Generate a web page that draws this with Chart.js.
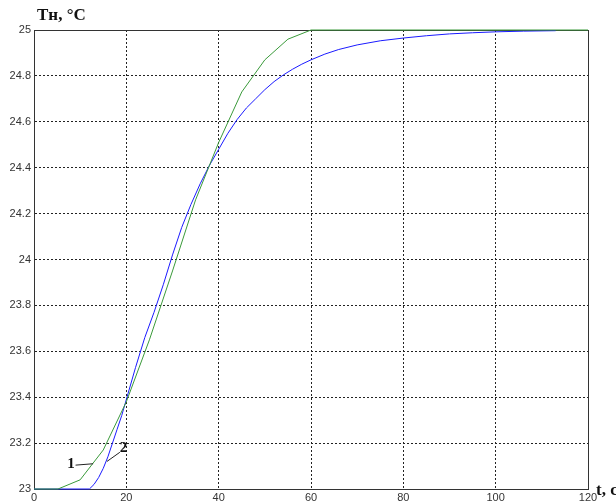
<!DOCTYPE html>
<html>
<head>
<meta charset="utf-8">
<script src="https://cdn.jsdelivr.net/npm/chart.js@4.4.0/dist/chart.umd.min.js"></script>
<style>
  body { margin: 0; background: #fff; }
  #wrap { position: relative; width: 616px; height: 502px; overflow: hidden; }
  .lbl { position: absolute; font-family: 'Liberation Serif', 'Times New Roman', serif; font-weight: bold; color: #111; white-space: nowrap; }
</style>
</head>
<body>
<div id="wrap">
  <canvas id="chart" width="616" height="502"></canvas>
  <div class="lbl" style="left:37px; top:5px; font-size:17px;">Тн, °С</div>
  <div class="lbl" style="left:596px; top:480px; font-size:17px;">t, с</div>
</div>
<script>
// curve 1 (green), piecewise
const time1 = [0, 5.2, 10, 15, 20, 25, 30, 35, 40, 45, 50, 55, 60, 120];
const temp1 = [23, 23, 23.04, 23.17, 23.38, 23.65, 23.95, 24.26, 24.51, 24.73, 24.87, 24.96, 25, 25];

// curve 2 (blue)
const time2 = [0, 12, 13, 14, 15, 16, 17, 18, 19, 20, 22, 24, 26, 28, 30, 32, 34, 36, 38, 40,
  42, 44, 46, 48, 50, 52, 54, 56, 58, 60, 63, 66, 70, 75, 80, 85, 90, 95, 100, 106, 113];
const temp2 = [23, 23, 23.02, 23.05, 23.09, 23.14, 23.2, 23.26, 23.32, 23.39, 23.53, 23.66, 23.77, 23.89, 24.02, 24.14, 24.24, 24.33, 24.41, 24.48,
  24.55, 24.61, 24.66, 24.70, 24.74, 24.775, 24.804, 24.829, 24.851, 24.87, 24.895, 24.915, 24.935, 24.953, 24.965, 24.975, 24.983, 24.988, 24.992, 24.995, 24.997];

const xTicks = [0, 20, 40, 60, 80, 100, 120];
const yMin = 23, yMax = 25, yStep = 0.2;

// curve labels: [text, textX, textY, lineFromX, lineFromY, lineToX, lineToY]
const curveLabels = [
  ['1', 8.0, 23.11, 9.0, 23.104, 12.8, 23.11],
  ['2', 19.4, 23.18, 18.6, 23.16, 15.8, 23.12]
];

const toPoints = (xs, ys) => xs.map((x, i) => ({ x: x, y: ys[i] }));

const frameAndLabels = {
  id: 'frameAndLabels',
  beforeDatasetsDraw(chart) {
    const { ctx, chartArea: a } = chart;
    ctx.save();
    ctx.strokeStyle = '#333';
    ctx.lineWidth = 1;
    ctx.strokeRect(Math.round(a.left) + 0.5, Math.round(a.top) + 0.5,
      Math.round(a.right - a.left), Math.round(a.bottom - a.top));
    ctx.restore();
  },
  afterDatasetsDraw(chart) {
    const { ctx, scales: { x, y } } = chart;
    ctx.save();
    ctx.strokeStyle = '#222';
    ctx.lineWidth = 1;
    ctx.font = 'bold 15px "Liberation Serif", serif';
    ctx.fillStyle = '#111';
    ctx.textAlign = 'center';
    ctx.textBaseline = 'middle';
    curveLabels.forEach(l => {
      ctx.fillText(l[0], x.getPixelForValue(l[1]), y.getPixelForValue(l[2]));
      ctx.beginPath();
      ctx.moveTo(x.getPixelForValue(l[3]), y.getPixelForValue(l[4]));
      ctx.lineTo(x.getPixelForValue(l[5]), y.getPixelForValue(l[6]));
      ctx.stroke();
    });
    ctx.restore();
  }
};

new Chart(document.getElementById('chart').getContext('2d'), {
  type: 'line',
  data: {
    datasets: [
      { label: '1', data: toPoints(time1, temp1), borderColor: '#3a9a3a', borderWidth: 1, pointRadius: 0, tension: 0, clip: 3 },
      { label: '2', data: toPoints(time2, temp2), borderColor: '#1a1aff', borderWidth: 1, pointRadius: 0, tension: 0, clip: 3 }
    ]
  },
  options: {
    responsive: false,
    animation: false,
    layout: { padding: { top: 30, right: 28, left: 0, bottom: 0 } },
    plugins: { legend: { display: false }, tooltip: { enabled: false } },
    scales: {
      x: {
        type: 'linear',
        min: 0, max: 120,
        afterBuildTicks: s => { s.ticks = xTicks.map(v => ({ value: v })); },
        afterFit: s => { s.height = 13; },
        grid: { color: '#222', lineWidth: 1, drawTicks: false },
        border: { display: true, color: '#333', dash: [2, 2] },
        ticks: { padding: 2, color: '#333', font: { family: '"Liberation Sans", Arial, sans-serif', size: 11 } }
      },
      y: {
        min: yMin, max: yMax,
        ticks: {
          stepSize: yStep, padding: 3, color: '#333',
          font: { family: '"Liberation Sans", Arial, sans-serif', size: 11 },
          callback: v => String(Number(v.toFixed(1)))
        },
        afterFit: s => { s.width = 34; },
        grid: { color: '#222', lineWidth: 1, drawTicks: false },
        border: { display: true, color: '#333', dash: [2, 2] }
      }
    }
  },
  plugins: [frameAndLabels]
});
</script>
</body>
</html>
